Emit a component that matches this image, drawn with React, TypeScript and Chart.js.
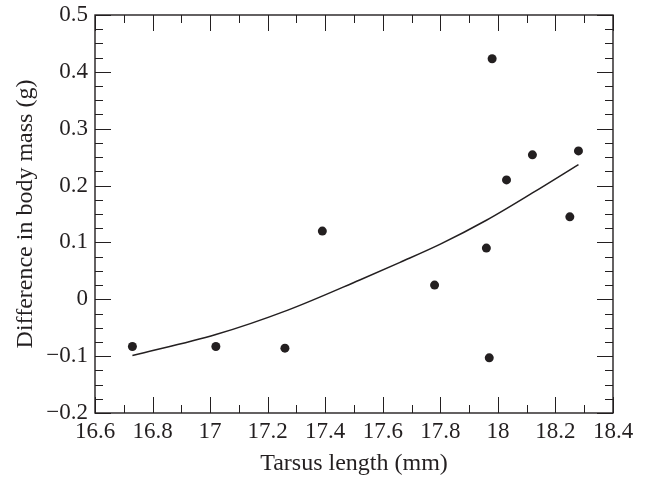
import React, { useEffect, useRef } from "react";
import { Chart, registerables } from "chart.js";

Chart.register(...registerables);

const tarsusLength = [16.73, 17.02, 17.26, 17.39, 17.78, 17.96, 17.97, 17.98, 18.03, 18.12, 18.25, 18.28];
const massDifference = [-0.083, -0.083, -0.086, 0.12, 0.025, 0.09, -0.103, 0.423, 0.21, 0.254, 0.145, 0.261];

const fitX = [16.73, 17.02, 17.27, 17.52, 17.66, 17.8, 17.96, 18.12, 18.28];
const fitY = [-0.099, -0.062, -0.019, 0.034, 0.065, 0.097, 0.139, 0.187, 0.237];

const xTickLabels = ["16.6", "16.8", "17", "17.2", "17.4", "17.6", "17.8", "18", "18.2", "18.4"];
const yTickLabels = ["\u22120.2", "\u22120.1", "0", "0.1", "0.2", "0.3", "0.4", "0.5"];

const INK = "#231f20";
const FONT = "'Liberation Serif', 'DejaVu Serif', serif";

const frameTicks = {
  id: "frameTicks",
  afterDatasetsDraw(chart: any) {
    const { ctx, chartArea: a, scales } = chart;
    const xs = scales.x;
    const ys = scales.y;
    ctx.save();
    ctx.strokeStyle = INK;
    ctx.lineWidth = 1;
    const drawX = (v: number, len: number) => {
      const px = Math.round(xs.getPixelForValue(v)) + 0.5;
      ctx.beginPath();
      ctx.moveTo(px, a.bottom);
      ctx.lineTo(px, a.bottom - len);
      ctx.moveTo(px, a.top);
      ctx.lineTo(px, a.top + len);
      ctx.stroke();
    };
    const drawY = (v: number, len: number) => {
      const py = Math.round(ys.getPixelForValue(v)) + 0.5;
      ctx.beginPath();
      ctx.moveTo(a.left, py);
      ctx.lineTo(a.left + len, py);
      ctx.moveTo(a.right, py);
      ctx.lineTo(a.right - len, py);
      ctx.stroke();
    };
    for (let i = 0; i <= 18; i++) {
      const v = 16.6 + i * 0.1;
      drawX(v, i % 2 === 0 ? 16 : 8);
    }
    for (let i = 0; i <= 28; i++) {
      const v = -0.2 + i * 0.025;
      drawY(v, i % 4 === 0 ? 16 : 8);
    }
    ctx.lineWidth = 1.4;
    ctx.strokeRect(a.left, a.top, a.right - a.left, a.bottom - a.top);
    ctx.restore();
  },
};

export default function App() {
  const ref = useRef<HTMLCanvasElement | null>(null);
  useEffect(() => {
    if (!ref.current) return;
    const chart = new Chart(ref.current, {
      type: "scatter",
      data: {
        datasets: [
          {
            type: "line",
            data: fitX.map((x, i) => ({ x, y: fitY[i] })),
            borderColor: INK,
            borderWidth: 1.5,
            pointRadius: 0,
            cubicInterpolationMode: "monotone",
            fill: false,
          } as any,
          {
            type: "scatter",
            data: tarsusLength.map((x, i) => ({ x, y: massDifference[i] })),
            backgroundColor: INK,
            borderColor: INK,
            pointRadius: 4.5,
            pointBorderWidth: 0,
          },
        ],
      },
      options: {
        animation: false,
        responsive: false,
        layout: { padding: { top: 15, right: 33, left: 0, bottom: 0 } },
        plugins: { legend: { display: false }, tooltip: { enabled: false } },
        scales: {
          x: {
            type: "linear",
            min: 16.6,
            max: 18.4,
            afterFit: (s: any) => {
              s.height = 65;
              s.paddingLeft = 0;
              s.paddingRight = 0;
            },
            ticks: {
              stepSize: 0.2,
              color: INK,
              padding: 5,
              font: { family: FONT, size: 23 },
              maxRotation: 0,
              autoSkip: false,
              callback: (_v: any, i: number) => xTickLabels[i],
            },
            grid: { display: false, drawTicks: false },
            border: { display: false },
            title: {
              display: true,
              text: "Tarsus length (mm)",
              color: INK,
              font: { family: FONT, size: 24 },
              padding: { top: 8, bottom: 0 },
            },
          },
          y: {
            type: "linear",
            min: -0.2,
            max: 0.5,
            afterFit: (s: any) => {
              s.width = 95;
              s.paddingTop = 0;
              s.paddingBottom = 0;
            },
            ticks: {
              stepSize: 0.1,
              color: INK,
              padding: 7,
              font: { family: FONT, size: 23 },
              autoSkip: false,
              callback: (_v: any, i: number) => yTickLabels[i],
            },
            grid: { display: false, drawTicks: false },
            border: { display: false },
            title: {
              display: true,
              text: "Difference in body mass (g)",
              color: INK,
              font: { family: FONT, size: 24 },
              padding: { top: 11, bottom: 0 },
            },
          },
        },
      },
      plugins: [frameTicks],
    });
    return () => chart.destroy();
  }, []);
  return (
    <div style={{ position: "fixed", left: 0, top: 0, width: 646, height: 478, background: "#fff" }}>
      <canvas ref={ref} width={646} height={478} />
    </div>
  );
}
